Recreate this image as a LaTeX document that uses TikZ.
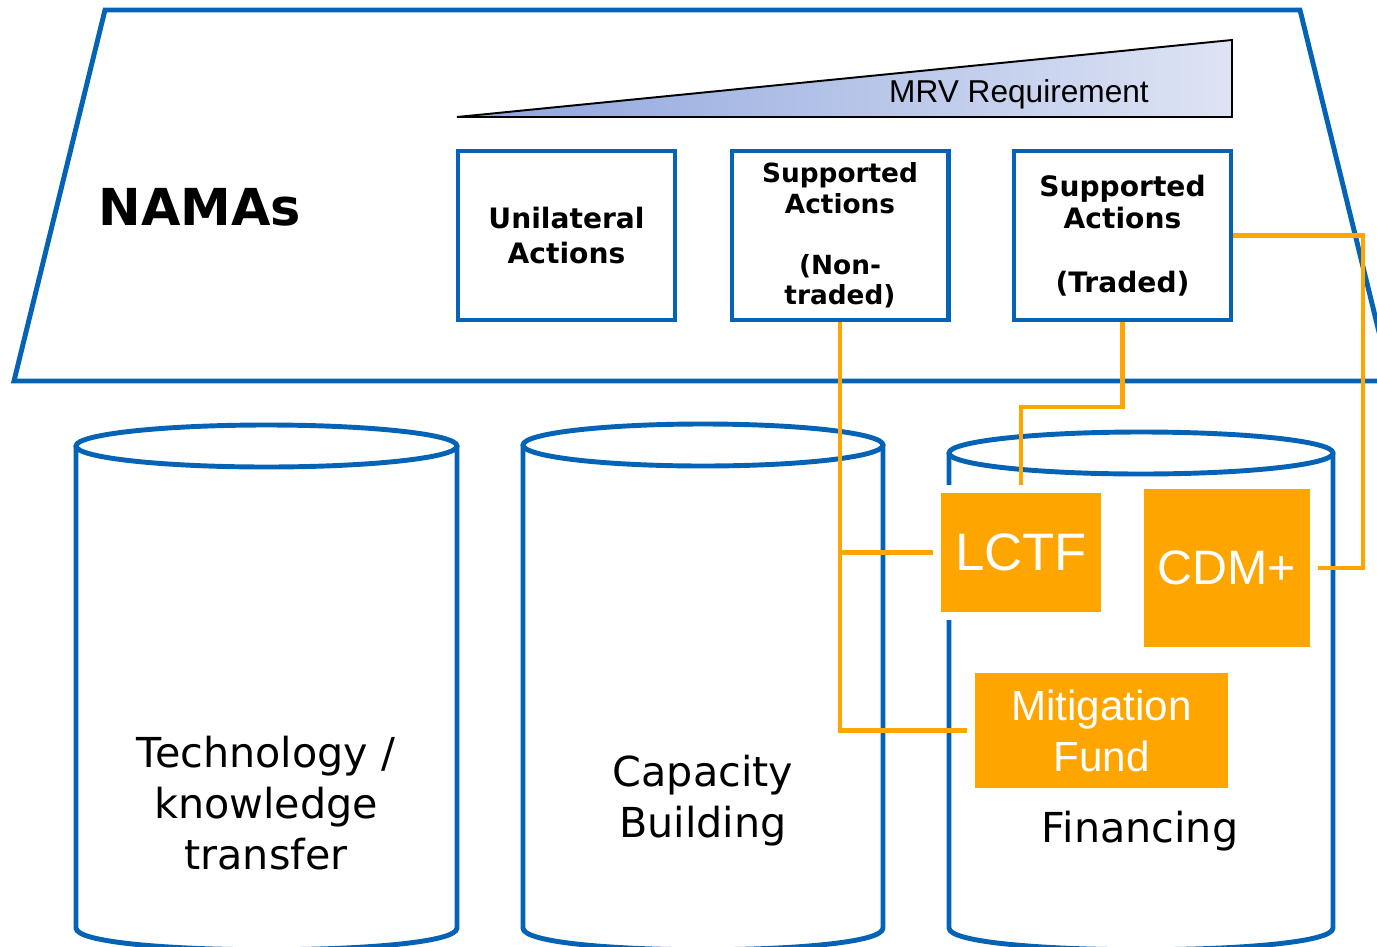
\documentclass[tikz,border=0pt]{standalone}
\usepackage{fontspec}
\setmainfont{Liberation Sans}
\newfontfamily\verd{DejaVu Sans}
\definecolor{namablue}{RGB}{5,99,181}
\definecolor{fundorange}{RGB}{255,165,0}
\definecolor{mrvdark}{RGB}{140,163,220}
\definecolor{mrvlight}{RGB}{222,228,244}
\begin{document}
\begin{tikzpicture}[x=0.02cm,y=-0.02cm,
  action/.style={draw=namablue,line width=2.3pt,fill=white,minimum width=4.34cm,minimum height=3.38cm,align=center,inner sep=0pt},
  fund/.style={fill=fundorange,text=white,align=center,inner sep=0pt,preaction={draw=white,line width=9pt}},
  pillar/.style={draw=namablue,line width=2.8pt},
  link/.style={draw=fundorange,line width=2.8pt}]
\useasboundingbox (0,0) rectangle (1377,947);
\clip (0,0) rectangle (1377,947);
% NAMAs frame
\draw [namablue,line width=2.8pt] (105,10) -- (1300,10) -- (1391,381) -- (14,381) -- cycle;
\node [font=\verd\bfseries\fontsize{29}{34}\selectfont] (N) at (200,207) {NAMAs};
\path [draw=black,line width=1.1pt,left color=mrvdark,right color=mrvlight] (457,117) -- (1232,40) -- (1232,117) -- cycle;
\node [font=\fontsize{18}{22}\selectfont] (MRV) at (1019,94) {MRV Requirement};
\node [action,font=\verd\bfseries\fontsize{16}{20.4}\selectfont] (UA) at (566.5,235.5) {Unilateral\\Actions};
\node [action,font=\verd\bfseries\fontsize{15}{17.4}\selectfont] (SN) at (840,235.5) {Supported\\Actions\\\\(Non-\\traded)};
\node [action,font=\verd\bfseries\fontsize{16}{18.3}\selectfont] (ST) at (1122.5,235.5) {Supported\\Actions\\\\(Traded)};
% pillars
\foreach \xa/\xb/\yt in {76/457/446, 523/883/445, 949/1333/453}
{
  \draw [pillar] ({(\xa+\xb)/2},\yt) ellipse [x radius={(\xb-\xa)/2}, y radius=21];
  \draw [pillar] (\xa,\yt) -- (\xa,928) .. controls (\xa,957) and (\xb,957) .. (\xb,928) -- (\xb,\yt);
}
\node [align=center,font=\verd\fontsize{23.5}{29}\selectfont] (TK) at (266,803) {Technology /\\knowledge\\transfer};
\node [align=center,font=\verd\fontsize{23.5}{29}\selectfont] (CB) at (703,801) {Capacity\\Building};
\node [font=\verd\fontsize{23.5}{29}\selectfont] (FI) at (1140,831) {Financing};
% links
\path [link] (SN.south) |- (1101,730.5);
\path [link] (840,552.5) -- (1021,552.5);
\path [link] (ST.south) -- ++(0,85) -| (1021,552);
\path [link] (ST.east) -- ++(130,0) |- (1227,568);
% funds
\node [fund,minimum width=3.2cm,minimum height=2.38cm,font=\fontsize{30}{34}\selectfont] (LCTF) at (1021,552.5) {LCTF};
\node [fund,minimum width=3.32cm,minimum height=3.16cm,font=\fontsize{27.5}{32}\selectfont] (CDM) at (1227,568) {CDM+};
\node [fund,minimum width=5.06cm,minimum height=2.3cm,font=\fontsize{24}{29}\selectfont] (MF) at (1101.5,730.5) {Mitigation\\Fund};
\end{tikzpicture}
\end{document}
